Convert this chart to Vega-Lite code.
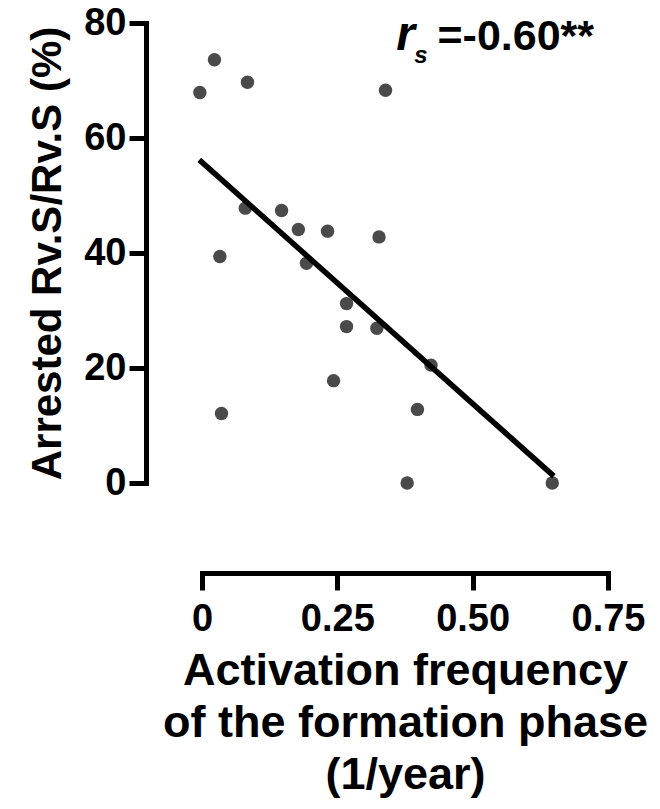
{
  "$schema": "https://vega.github.io/schema/vega-lite/v6.json",
  "width": 406,
  "height": 460,
  "autosize": {"type": "none"},
  "padding": {"left": 202, "top": 23, "right": 52, "bottom": 326},
  "background": "white",
  "config": {
    "view": {"stroke": null},
    "axis": {
      "grid": false,
      "labelFlush": false,
      "domainColor": "black",
      "domainWidth": 5,
      "domainCap": "square",
      "tickColor": "black",
      "tickWidth": 5,
      "tickSize": 17,
      "labelFont": "Liberation Sans",
      "labelFontWeight": "bold",
      "labelFontSize": 38,
      "labelColor": "black",
      "titleFont": "Liberation Sans",
      "titleFontWeight": "bold",
      "titleColor": "black"
    }
  },
  "datasets": {
    "points": [
      {"freq": -0.004, "arrested": 67.9},
      {"freq": 0.023, "arrested": 73.6},
      {"freq": 0.084, "arrested": 69.7},
      {"freq": 0.339, "arrested": 68.3},
      {"freq": 0.080, "arrested": 47.8},
      {"freq": 0.147, "arrested": 47.4},
      {"freq": 0.178, "arrested": 44.1},
      {"freq": 0.232, "arrested": 43.8},
      {"freq": 0.327, "arrested": 42.8},
      {"freq": 0.033, "arrested": 39.4},
      {"freq": 0.193, "arrested": 38.2},
      {"freq": 0.267, "arrested": 31.2},
      {"freq": 0.267, "arrested": 27.2},
      {"freq": 0.323, "arrested": 26.9},
      {"freq": 0.423, "arrested": 20.5},
      {"freq": 0.243, "arrested": 17.8},
      {"freq": 0.036, "arrested": 12.1},
      {"freq": 0.398, "arrested": 12.8},
      {"freq": 0.379, "arrested": 0},
      {"freq": 0.647, "arrested": 0}
    ],
    "fit": [
      {"freq": -0.005, "arrested": 56.2},
      {"freq": 0.65, "arrested": 1.2}
    ],
    "notes": [
      {"freq": 0.359, "arrested": 75.3, "label": "r", "part": "r"},
      {"freq": 0.392, "arrested": 73.0, "label": "s", "part": "s"},
      {"freq": 0.435, "arrested": 75.3, "label": "=-0.60**", "part": "v"}
    ]
  },
  "layer": [
    {
      "data": {"name": "points"},
      "mark": {"type": "point", "filled": true, "size": 180, "color": "#4a4a4a", "opacity": 1},
      "encoding": {
        "x": {
          "field": "freq", "type": "quantitative",
          "scale": {"domain": [0, 0.75], "nice": false, "zero": false},
          "axis": {
            "values": [0, 0.25, 0.5, 0.75],
            "labelExpr": "datum.value == 0 ? '0' : format(datum.value, '.2f')",
            "offset": 90,
            "title": ["Activation frequency", "of the formation phase", "(1/year)"],
            "titleFontSize": 45,
            "titleLineHeight": 52,
            "titlePadding": 10,
            "labelPadding": 10
          }
        },
        "y": {
          "field": "arrested", "type": "quantitative",
          "scale": {"domain": [0, 80], "nice": false},
          "axis": {
            "values": [0, 20, 40, 60, 80],
            "offset": 56,
            "title": "Arrested Rv.S/Rv.S (%)",
            "titleFontSize": 42,
            "titlePadding": 14,
            "labelPadding": 3
          }
        }
      }
    },
    {
      "data": {"name": "fit"},
      "mark": {"type": "line", "color": "black", "strokeWidth": 5.5},
      "encoding": {
        "x": {"field": "freq", "type": "quantitative"},
        "y": {"field": "arrested", "type": "quantitative"}
      }
    },
    {
      "data": {"name": "notes"},
      "transform": [{"filter": "datum.part == 'r'"}],
      "mark": {"type": "text", "align": "left", "baseline": "alphabetic", "font": "Liberation Sans", "fontWeight": "bold", "fontStyle": "italic", "fontSize": 48, "color": "black"},
      "encoding": {
        "x": {"field": "freq", "type": "quantitative"},
        "y": {"field": "arrested", "type": "quantitative"},
        "text": {"field": "label"}
      }
    },
    {
      "data": {"name": "notes"},
      "transform": [{"filter": "datum.part == 's'"}],
      "mark": {"type": "text", "align": "left", "baseline": "alphabetic", "font": "Liberation Sans", "fontWeight": "bold", "fontStyle": "italic", "fontSize": 24, "color": "black"},
      "encoding": {
        "x": {"field": "freq", "type": "quantitative"},
        "y": {"field": "arrested", "type": "quantitative"},
        "text": {"field": "label"}
      }
    },
    {
      "data": {"name": "notes"},
      "transform": [{"filter": "datum.part == 'v'"}],
      "mark": {"type": "text", "align": "left", "baseline": "alphabetic", "font": "Liberation Sans", "fontWeight": "bold", "fontSize": 43, "color": "black"},
      "encoding": {
        "x": {"field": "freq", "type": "quantitative"},
        "y": {"field": "arrested", "type": "quantitative"},
        "text": {"field": "label"}
      }
    }
  ]
}
